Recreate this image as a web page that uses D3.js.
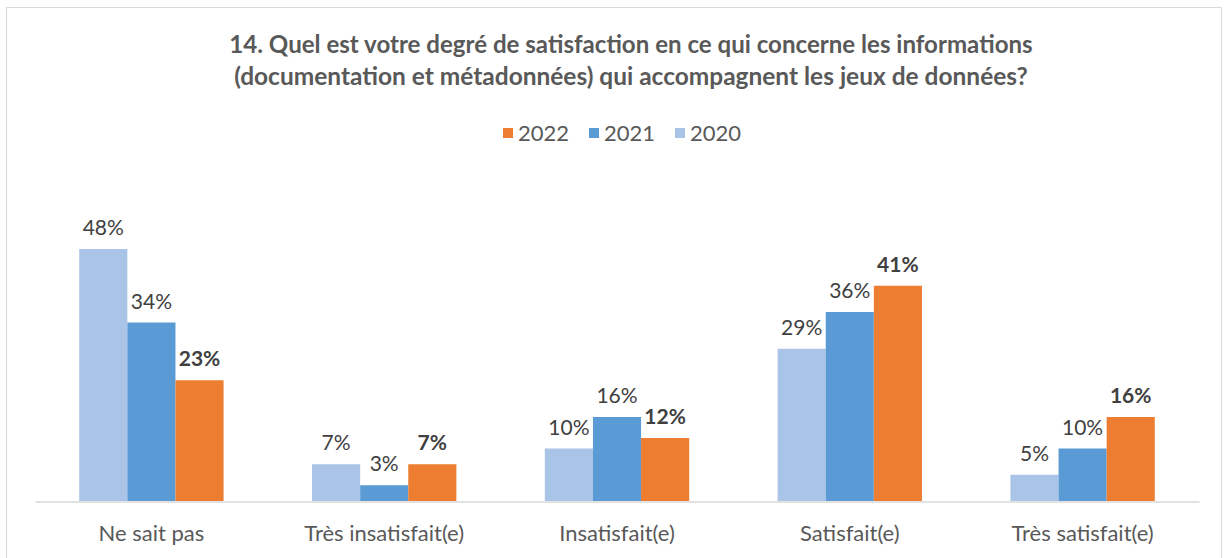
<!DOCTYPE html>
<html><head><meta charset="utf-8">
<script src="https://cdn.jsdelivr.net/npm/d3@7"></script>
<style>body{margin:0;background:#fff}svg{display:block;font-family:Lato,"Open Sans",sans-serif}</style>
</head><body><svg id="c" width="1225" height="558"></svg>
<script>
const categories = ["Ne sait pas","Très insatisfait(e)","Insatisfait(e)","Satisfait(e)","Très satisfait(e)"];
const years = ["2020","2021","2022"];
const legendOrder = ["2022","2021","2020"];
const values2020 = [48,7,10,29,5];
const values2021 = [34,3,16,36,10];
const values2022 = [23,7,12,41,16];
const titleLines = ["14. Quel est votre degré de satisfaction en ce qui concerne les informations","(documentation et métadonnées) qui accompagnent les jeux de données?"];
const colors = {"2020":"#A9C4E6","2021":"#5B9BD5","2022":"#ED7D31"};
const series = {"2020":values2020,"2021":values2021,"2022":values2022};

const svg = d3.select("#c");
svg.append("rect").attr("x",6.5).attr("y",7.5).attr("width",1215).attr("height",560)
  .attr("fill","#fff").attr("stroke","#D9D9D9");

const x0 = d3.scaleBand().domain(categories).range([35,1199]).paddingInner(0.38).paddingOuter(0.19);
const x1 = d3.scaleBand().domain(years).range([0,x0.bandwidth()]);
const y = d3.scaleLinear().domain([0,48]).range([501,249]);

// title
const t = svg.append("g");
titleLines.forEach((l,i)=>{
  const tx = t.append("text").attr("x",631).attr("y",53+i*32).attr("text-anchor","middle")
   .attr("font-size",20).attr("font-weight","bold").attr("fill","#595959").text(l);
  const target = i===0?804:794;
  const w = tx.node().getComputedTextLength();
  tx.attr("font-size",20*target/w);
});

// legend
const lg = svg.append("g");
const lx = [503,589,675];
legendOrder.forEach((yr,i)=>{
  lg.append("rect").attr("x",lx[i]).attr("y",128).attr("width",10).attr("height",10).attr("fill",colors[yr]);
  lg.append("text").attr("x",lx[i]+15).attr("y",141).attr("font-size",22).attr("fill","#595959").text(yr);
});

// bars
const g = svg.append("g");
categories.forEach((c,ci)=>{
  years.forEach(yr=>{
    const v = series[yr][ci];
    const bx = x0(c)+x1(yr);
    g.append("rect").attr("x",bx).attr("y",y(v)).attr("width",x1.bandwidth()).attr("height",y(0)-y(v)).attr("fill",colors[yr]);
    g.append("text").attr("x",bx+x1.bandwidth()/2).attr("y",y(v)-14).attr("text-anchor","middle")
      .attr("font-size",21).attr("fill","#404040").attr("font-weight",yr==="2022"?"bold":"normal").text(v+"%");
  });
});

// axis
const ax = svg.append("g").attr("transform","translate(0,501.5)").call(d3.axisBottom(x0).tickSize(0).tickPadding(24));
ax.select(".domain").attr("stroke","#D9D9D9").attr("stroke-width",1.5);
ax.selectAll("text").attr("font-size",22).attr("fill","#595959").attr("font-family","Lato,'Open Sans',sans-serif");
</script></body></html>
